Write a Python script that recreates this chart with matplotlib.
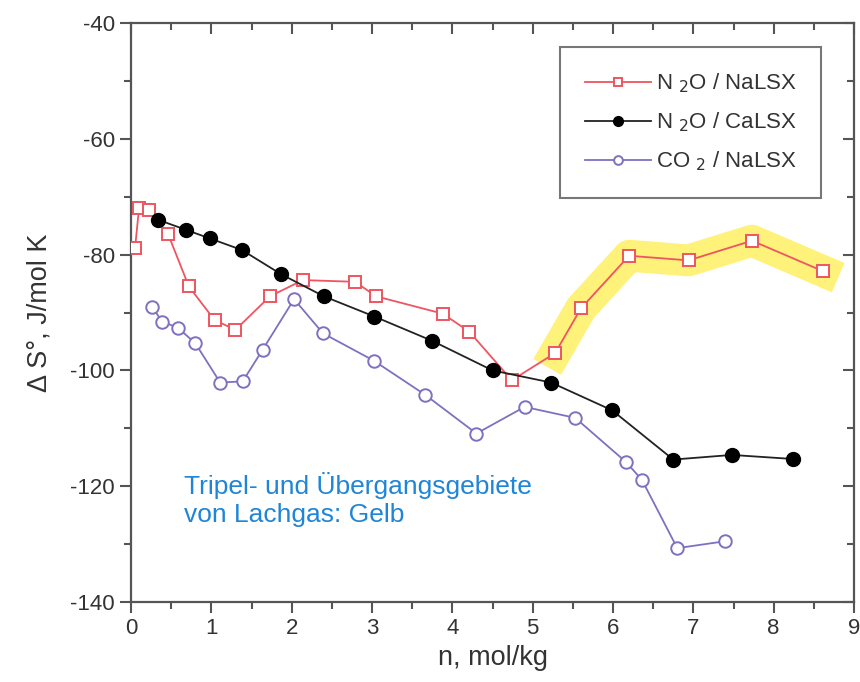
import matplotlib
matplotlib.use("Agg")
import matplotlib.pyplot as plt
from matplotlib.ticker import MultipleLocator

plt.rcParams['font.family'] = ['Liberation Sans', 'DejaVu Sans']
plt.rcParams['axes.unicode_minus'] = False

# N2O / NaLSX
x_na = [0.05, 0.10, 0.22, 0.46, 0.72, 1.04, 1.30, 1.73, 2.14, 2.79, 3.05, 3.88, 4.21,
        4.74, 5.28, 5.60, 6.20, 6.94, 7.73, 8.62]
y_na = [-78.9, -72.0, -72.3, -76.4, -85.5, -91.3, -93.0, -87.2, -84.4, -84.7, -87.2, -90.2, -93.3,
        -101.7, -97.0, -89.3, -80.2, -81.0, -77.6, -82.9]
# N2O / CaLSX
x_ca = [0.34, 0.68, 0.98, 1.38, 1.87, 2.40, 3.03, 3.75, 4.50, 5.23, 5.99, 6.75, 7.48, 8.24]
y_ca = [-74.0, -75.7, -77.2, -79.2, -83.4, -87.2, -90.7, -94.9, -100.0, -102.1, -106.9, -115.4, -114.6, -115.3]
# CO2 / NaLSX
x_co = [0.26, 0.39, 0.58, 0.80, 1.11, 1.39, 1.64, 2.03, 2.39, 3.02, 3.66, 4.30, 4.90, 5.53,
        6.16, 6.36, 6.80, 7.40]
y_co = [-89.0, -91.6, -92.6, -95.3, -102.1, -101.9, -96.4, -87.7, -93.6, -98.3, -104.2, -110.9, -106.3, -108.2,
        -115.8, -118.9, -130.7, -129.5]
highlight_start = 14  # index in N2O/NaLSX where yellow region starts

labels = ['N $_{2}$O / NaLSX', 'N $_{2}$O / CaLSX', 'CO $_{2}$ / NaLSX']
note = 'Tripel- und Übergangsgebiete\nvon Lachgas: Gelb'

fig = plt.figure(figsize=(8.6, 6.82), dpi=100)
ax = fig.add_axes([131/860, (682-602)/682, (854-131)/860, (602-23)/682])

spc = '#555555'
red = '#ee5560'
purple = '#8070c0'

ax.plot(x_na[highlight_start:], y_na[highlight_start:], color='#fff27a', lw=23,
        solid_capstyle='projecting', solid_joinstyle='round', zorder=1)

ax.plot(x_na, y_na, color=red, lw=1.3, marker='s', ms=9, mfc='white', mec=red, mew=1.4,
        label=labels[0], zorder=3)
ax.plot(x_ca, y_ca, color='#222222', lw=1.3, marker='o', ms=10, mfc='black', mec='black',
        label=labels[1], zorder=3)
ax.plot(x_co, y_co, color=purple, lw=1.3, marker='o', ms=9, mfc='white', mec=purple, mew=1.4,
        label=labels[2], zorder=3)

ax.set_xlim(0, 9)
ax.set_ylim(-140, -40)
ax.xaxis.set_major_locator(MultipleLocator(1))
ax.xaxis.set_minor_locator(MultipleLocator(0.5))
ax.yaxis.set_major_locator(MultipleLocator(20))
ax.yaxis.set_minor_locator(MultipleLocator(10))

for s in ax.spines.values():
    s.set_color(spc)
    s.set_linewidth(1.6)

ax.tick_params(which='both', direction='out', top=False, right=False, color=spc, width=1.5,
               labelsize=16, labelcolor='#333333')
ax.tick_params(which='major', length=8)
ax.tick_params(which='minor', length=5)

secx = ax.secondary_xaxis('top')
secx.xaxis.set_major_locator(MultipleLocator(1))
secx.xaxis.set_minor_locator(MultipleLocator(0.5))
secx.tick_params(which='both', direction='in', color=spc, width=1.5, labeltop=False)
secx.tick_params(which='major', length=8)
secx.tick_params(which='minor', length=5)
secx.spines['top'].set_visible(False)

secy = ax.secondary_yaxis('right')
secy.yaxis.set_major_locator(MultipleLocator(20))
secy.yaxis.set_minor_locator(MultipleLocator(10))
secy.tick_params(which='both', direction='in', color=spc, width=1.5, labelright=False)
secy.tick_params(which='major', length=8)
secy.tick_params(which='minor', length=5)
secy.spines['right'].set_visible(False)

ax.set_xlabel('n, mol/kg', fontsize=19.5, color='#333333', labelpad=4)
ax.set_ylabel('Δ S°, J/mol K', fontsize=19.5, color='#333333', labelpad=13)

leg = ax.legend(loc='upper right', bbox_to_anchor=(821/860, (682-47)/682),
                bbox_transform=fig.transFigure, fontsize=16, frameon=True, fancybox=False,
                handlelength=3.0, handletextpad=0.2, borderpad=1.1, labelspacing=0.7,
                borderaxespad=0, markerscale=0.7)
leg.get_frame().set_edgecolor('#555555')
leg.get_frame().set_linewidth(1.5)
for t in leg.get_texts():
    t.set_color('#333333')

ax.text(0.66, -117.5, note, fontsize=19, color='#1f85d6', va='top', ha='left',
        linespacing=1.2, zorder=4)

fig.savefig('out.png', dpi=100)
